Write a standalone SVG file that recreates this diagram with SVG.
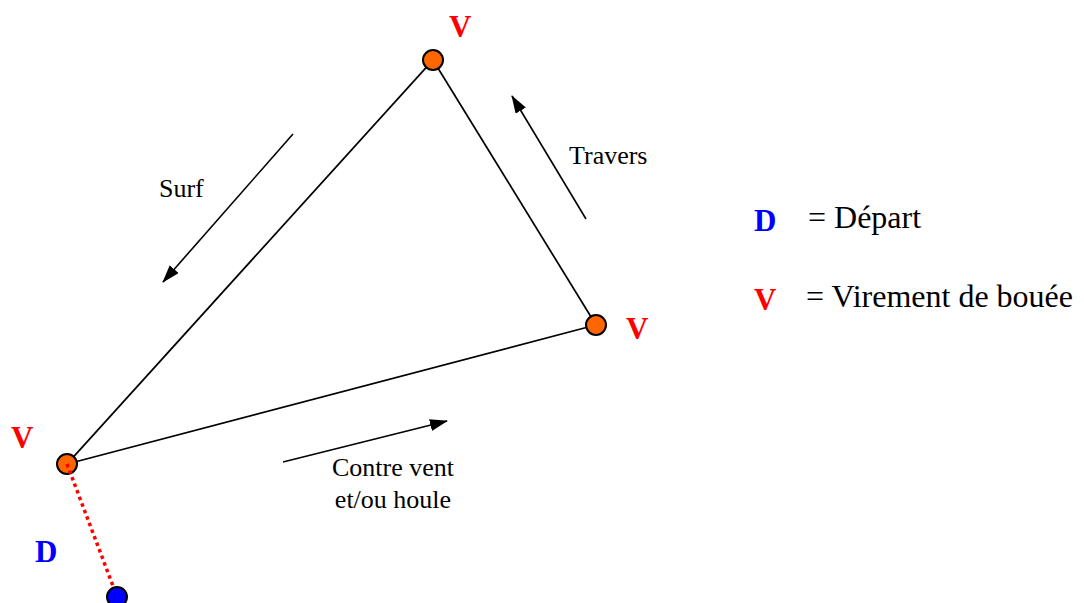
<svg xmlns="http://www.w3.org/2000/svg" width="1084" height="603" viewBox="0 0 1084 603">
<style>
.t{font-family:"Liberation Serif",serif;fill:#000;font-size:26px}
.v{font-family:"Liberation Serif",serif;font-weight:bold;fill:#ff0000;font-size:31px}
.d{font-family:"Liberation Serif",serif;font-weight:bold;fill:#0000ff;font-size:31px}
.leg{font-family:"Liberation Serif",serif;fill:#000;font-size:32px}
.buoy{fill:#ff6600;stroke:#000;stroke-width:2}
.edge{stroke:#000;stroke-width:1.7;fill:none}
.arr{stroke:#000;stroke-width:1.6;fill:none;marker-end:url(#ah)}
</style>
<defs>
<marker id="ah" viewBox="0 0 18 12" refX="17" refY="6" markerWidth="18" markerHeight="12" orient="auto" markerUnits="userSpaceOnUse">
<path d="M0,0 L18,6 L0,12 z" fill="#000"/>
</marker>
</defs>
<rect width="1084" height="603" fill="#fff"/>
<g id="buoy-top"><circle class="buoy" cx="433" cy="60" r="10"/><text class="v" x="449" y="37">V</text></g>
<g id="buoy-right"><circle class="buoy" cx="596" cy="325" r="10"/><text class="v" x="626" y="339">V</text></g>
<g id="buoy-left"><circle class="buoy" cx="67" cy="464" r="10"/><text class="v" x="11" y="448">V</text></g>
<g id="start"><circle cx="117" cy="597" r="10" fill="#0000ff" stroke="#000" stroke-width="2"/><text class="d" x="35" y="562">D</text></g>
<g id="connectors">
<line class="edge" x1="426.3" y1="67.4" x2="73.7" y2="456.6"/>
<line class="edge" x1="438.2" y1="68.5" x2="590.8" y2="316.5"/>
<line class="edge" x1="586.3" y1="327.5" x2="76.7" y2="461.5"/>
<line x1="67" y1="464" x2="113" y2="586" stroke="#ff0000" stroke-width="3.5" stroke-dasharray="3.5,3.5"/>
<line class="arr" x1="293" y1="134" x2="163" y2="282"/>
<line class="arr" x1="586" y1="219" x2="512" y2="96"/>
<line class="arr" x1="283" y1="462" x2="447" y2="421"/>
</g>
<g id="labels">
<text class="t" x="159" y="197">Surf</text>
<text class="t" x="569" y="164">Travers</text>
<text class="t" x="393" y="476" text-anchor="middle">Contre vent</text>
<text class="t" x="393" y="508" text-anchor="middle">et/ou houle</text>
</g>
<g id="legend">
<text class="d" x="754" y="231">D</text>
<text class="leg" x="808" y="228">= Départ</text>
<text class="v" x="754" y="310">V</text>
<text class="leg" x="806" y="307">= Virement de bouée</text>
</g>
</svg>
